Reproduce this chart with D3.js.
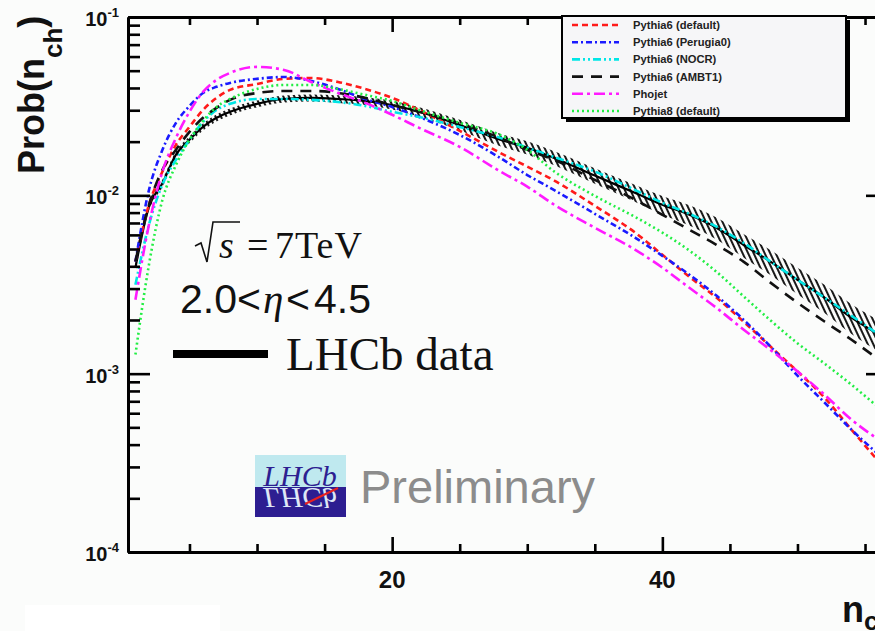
<!DOCTYPE html>
<html>
<head>
<meta charset="utf-8">
<script src="https://cdn.jsdelivr.net/npm/d3@7"></script>
<style>
  html, body { margin: 0; padding: 0; background: #fbfcfb; }
  svg { display: block; }
  text { font-family: "Liberation Sans", Arial, Helvetica, sans-serif; }
  .serif { font-family: "Liberation Serif", "Times New Roman", serif; }
</style>
</head>
<body>
<svg width="875" height="631"></svg>
<script>
var nch = [1, 2, 3, 4, 5, 6, 7, 8, 10, 12, 14, 16, 18, 20, 22, 25, 28, 30, 32, 35, 38, 40, 42, 44, 46, 48, 50, 52, 54, 56];

// LHCb data and its relative (hatched) uncertainty
var lhcbData = [0.00393, 0.00862, 0.0117, 0.0169, 0.0205, 0.0242, 0.0272, 0.0294, 0.0326, 0.0347, 0.0352, 0.0347, 0.0338, 0.0321, 0.0294, 0.0248, 0.0205, 0.0185, 0.0162, 0.0129, 0.0103, 0.00885, 0.00778, 0.00658, 0.00528, 0.00425, 0.00336, 0.00267, 0.00206, 0.00166];
var lhcbErr = [0.06, 0.05, 0.05, 0.045, 0.045, 0.045, 0.045, 0.045, 0.045, 0.045, 0.045, 0.05, 0.05, 0.055, 0.06, 0.07, 0.08, 0.085, 0.09, 0.1, 0.11, 0.12, 0.13, 0.14, 0.15, 0.16, 0.17, 0.18, 0.19, 0.2];

// generator predictions
var pythia6Default = [0.00425, 0.00885, 0.0136, 0.0192, 0.0242, 0.0301, 0.0352, 0.0390, 0.0421, 0.0450, 0.0455, 0.0432, 0.0395, 0.0352, 0.0301, 0.0230, 0.0173, 0.0145, 0.0121, 0.00873, 0.00617, 0.00464, 0.00349, 0.00267, 0.00196, 0.00142, 0.00103, 0.000734, 0.000485, 0.000322];
var pythia6Perugia0 = [0.00425, 0.0107, 0.0180, 0.0255, 0.0317, 0.0375, 0.0406, 0.0427, 0.0450, 0.0461, 0.0438, 0.0395, 0.0347, 0.0313, 0.0275, 0.0218, 0.0162, 0.0130, 0.0107, 0.00788, 0.00578, 0.00458, 0.00359, 0.00274, 0.00201, 0.00142, 0.000975, 0.000689, 0.000485, 0.000352];
var pythia6Nocr = [0.00315, 0.00684, 0.0115, 0.0158, 0.0205, 0.0258, 0.0301, 0.0326, 0.0347, 0.0347, 0.0343, 0.0334, 0.0317, 0.0294, 0.0275, 0.0242, 0.0210, 0.0185, 0.0164, 0.0136, 0.0107, 0.00908, 0.00787, 0.00667, 0.00542, 0.00425, 0.00336, 0.00267, 0.00211, 0.00166];
var pythia6Ambt1 = [0.00425, 0.00885, 0.0139, 0.0180, 0.0227, 0.0272, 0.0309, 0.0343, 0.0375, 0.0385, 0.0385, 0.0375, 0.0352, 0.0321, 0.0294, 0.0252, 0.0210, 0.0180, 0.0158, 0.0122, 0.00944, 0.00778, 0.00641, 0.00528, 0.00425, 0.00324, 0.00250, 0.00196, 0.00155, 0.00120];
var phojet = [0.00260, 0.00684, 0.0136, 0.0210, 0.0294, 0.0380, 0.0444, 0.0486, 0.0525, 0.0505, 0.0432, 0.0375, 0.0330, 0.0283, 0.0239, 0.0187, 0.0136, 0.0112, 0.00885, 0.00658, 0.00495, 0.00393, 0.00303, 0.00234, 0.00177, 0.00136, 0.00103, 0.000762, 0.000552, 0.000427];
var pythia8Default = [0.00128, 0.00408, 0.00944, 0.0148, 0.0205, 0.0261, 0.0313, 0.0347, 0.0395, 0.0416, 0.0416, 0.0395, 0.0366, 0.0338, 0.0301, 0.0255, 0.0218, 0.0180, 0.0136, 0.00993, 0.00755, 0.00618, 0.00490, 0.00373, 0.00272, 0.00199, 0.00148, 0.00114, 0.000867, 0.000646];

var seriesNames = ["Pythia6 (default)", "Pythia6 (Perugia0)", "Pythia6 (NOCR)", "Pythia6 (AMBT1)", "Phojet", "Pythia8 (default)"];
var seriesColors = ["#ff1a1a", "#1a1aff", "#00e6e6", "#111111", "#ff1aff", "#22ee44"];
var seriesDash = ["6,4", "6,3,2,3", "8,3,2,3,2,3", "11,8", "11,4,3,4", "2,3"];

var yTickExp = [-4, -3, -2, -1];
var xTickLabels = [20, 40];

var svg = d3.select("svg"),
    width = +svg.attr("width"),
    height = +svg.attr("height");

var x = d3.scaleLinear().domain([0.45, 56.7]).range([128, 888]);
var y = d3.scaleLog().domain([1e-4, 1e-1]).range([552, 17]);

svg.append("rect").attr("x", 25).attr("y", 605).attr("width", 195).attr("height", 26).attr("fill", "#ffffff");

var defs = svg.append("defs");
defs.append("pattern")
    .attr("id", "hatch")
    .attr("patternUnits", "userSpaceOnUse")
    .attr("width", 5)
    .attr("height", 5)
    .attr("patternTransform", "rotate(-25)")
  .append("line")
    .attr("x1", 1).attr("y1", 0).attr("x2", 1).attr("y2", 5)
    .attr("stroke", "#000")
    .attr("stroke-width", 1.8);
defs.append("clipPath").attr("id", "plotclip")
  .append("rect").attr("x", 128).attr("y", 17).attr("width", 760).attr("height", 535);

// series table
var seriesValues = [pythia6Default, pythia6Perugia0, pythia6Nocr, pythia6Ambt1, phojet, pythia8Default];
var series = seriesNames.map(function(name, i) {
    return { name: name, color: seriesColors[i], dash: seriesDash[i], values: seriesValues[i] };
});

var plot = svg.append("g").attr("clip-path", "url(#plotclip)");

// data band
var band = d3.area()
    .x(function(d, i) { return x(nch[i]); })
    .y0(function(d, i) { return y(d * (1 - lhcbErr[i])); })
    .y1(function(d, i) { return y(d * (1 + lhcbErr[i])); })
    .curve(d3.curveMonotoneX);

plot.append("path")
    .datum(lhcbData)
    .attr("d", band)
    .attr("fill", "url(#hatch)");

var line = d3.line()
    .x(function(d, i) { return x(nch[i]); })
    .y(function(d) { return y(d); })
    .curve(d3.curveMonotoneX);

plot.append("path")
    .datum(lhcbData)
    .attr("d", line)
    .attr("fill", "none")
    .attr("stroke", "#000")
    .attr("stroke-width", 2.2);

plot.selectAll(".mc")
    .data(series)
    .enter()
        .append("path")
        .attr("class", "mc")
        .attr("d", function(d) { return line(d.values); })
        .attr("fill", "none")
        .attr("stroke", function(d) { return d.color; })
        .attr("stroke-width", 2.6)
        .attr("stroke-dasharray", function(d) { return d.dash; });

// axes / frame
var minorY = [];
yTickExp.forEach(function(e) {
    if (e === -1) return;
    for (var k = 2; k <= 9; k++) minorY.push(k * Math.pow(10, e));
});
var majorY = yTickExp.map(function(e) { return Math.pow(10, e); });
var minorX = d3.range(5, 60, 5).filter(function(v) { return xTickLabels.indexOf(v) < 0; });

function styleAxis(g) {
    g.selectAll("path.domain").attr("stroke", "#000").attr("stroke-width", 3);
    g.selectAll(".tick line").attr("stroke", "#000").attr("stroke-width", 2.6);
    g.selectAll(".tick text").remove();
}

svg.append("g").attr("transform", "translate(128,0)")
    .call(d3.axisLeft(y).tickValues(minorY).tickSize(-12).tickSizeOuter(0)).call(styleAxis);
svg.append("g").attr("transform", "translate(128,0)")
    .call(d3.axisLeft(y).tickValues(majorY).tickSize(-22).tickSizeOuter(0)).call(styleAxis);
svg.append("g").attr("transform", "translate(888,0)")
    .call(d3.axisRight(y).tickValues(minorY).tickSize(-12).tickSizeOuter(0)).call(styleAxis);
svg.append("g").attr("transform", "translate(888,0)")
    .call(d3.axisRight(y).tickValues(majorY).tickSize(-22).tickSizeOuter(0)).call(styleAxis);
svg.append("g").attr("transform", "translate(0,552)")
    .call(d3.axisBottom(x).tickValues(minorX).tickSize(-8).tickSizeOuter(0)).call(styleAxis);
svg.append("g").attr("transform", "translate(0,552)")
    .call(d3.axisBottom(x).tickValues(xTickLabels).tickSize(-15).tickSizeOuter(0)).call(styleAxis);
svg.append("g").attr("transform", "translate(0,17)")
    .call(d3.axisTop(x).tickValues(minorX).tickSize(-8).tickSizeOuter(0)).call(styleAxis);
svg.append("g").attr("transform", "translate(0,17)")
    .call(d3.axisTop(x).tickValues(xTickLabels).tickSize(-15).tickSizeOuter(0)).call(styleAxis);

// tick labels
var yl = svg.selectAll(".ylab")
    .data(yTickExp)
    .enter()
        .append("text")
        .attr("class", "ylab")
        .attr("x", 119)
        .attr("y", function(d) { return y(Math.pow(10, d)) + 9; })
        .attr("text-anchor", "end")
        .attr("font-size", 20)
        .attr("font-weight", "bold")
        .attr("fill", "#111");
yl.append("tspan").text("10");
yl.append("tspan").attr("dy", -9).attr("font-size", 13).text(function(d) { return "-" + Math.abs(d); });

svg.selectAll(".xlab")
    .data(xTickLabels)
    .enter()
        .append("text")
        .attr("x", function(d) { return x(d); })
        .attr("y", 588)
        .attr("text-anchor", "middle")
        .attr("font-size", 24)
        .attr("font-weight", "bold")
        .attr("fill", "#111")
        .text(function(d) { return d; });

// axis titles
var yt = svg.append("text")
    .attr("transform", "translate(44,174) rotate(-90)")
    .attr("font-size", 36)
    .attr("font-weight", "bold")
    .attr("fill", "#111");
yt.append("tspan").text("Prob(n");
yt.append("tspan").attr("dy", 18).attr("font-size", 26).text("ch");
yt.append("tspan").attr("dy", -18).text(")");

var xt = svg.append("text")
    .attr("x", 842)
    .attr("y", 622)
    .attr("font-size", 36)
    .attr("font-weight", "bold")
    .attr("fill", "#111");
xt.append("tspan").text("n");
xt.append("tspan").attr("dy", 8).attr("font-size", 26).text("ch");

// legend
var lg = svg.append("g");
lg.append("rect").attr("x", 566).attr("y", 20).attr("width", 284).attr("height", 102).attr("fill", "#000");
lg.append("rect").attr("x", 562).attr("y", 16).attr("width", 284).attr("height", 102)
    .attr("fill", "#f6f6f8").attr("stroke", "#000").attr("stroke-width", 2);

var rows = lg.selectAll(".row")
    .data(series)
    .enter()
        .append("g")
        .attr("transform", function(d, i) { return "translate(0," + (25 + i * 17.2) + ")"; });
rows.append("line")
    .attr("x1", 572).attr("x2", 619)
    .attr("stroke", function(d) { return d.color; })
    .attr("stroke-width", 2.6)
    .attr("stroke-dasharray", function(d) { return d.dash; });
rows.append("text")
    .attr("x", 633).attr("y", 4)
    .attr("font-size", 11.2)
    .attr("font-weight", "bold")
    .attr("fill", "#222")
    .text(function(d) { return d.name; });

// annotations
svg.append("path")
    .attr("d", "M195,246 L201,243 L207,262 L213,222 L240,222")
    .attr("fill", "none").attr("stroke", "#111").attr("stroke-width", 1.6);
var sq = svg.append("text").attr("class", "serif").attr("y", 258).attr("font-size", 38).attr("fill", "#111");
sq.append("tspan").attr("x", 219).attr("font-style", "italic").text("s");
sq.append("tspan").attr("x", 247).text("=");
sq.append("tspan").attr("x", 275).attr("letter-spacing", 1).text("7TeV");

var eta = svg.append("text").attr("y", 313).attr("font-size", 41).attr("fill", "#111");
eta.append("tspan").attr("x", 180).text("2.0");
eta.append("tspan").attr("x", 237).text("<");
eta.append("tspan").attr("x", 263).attr("class", "serif").attr("font-style", "italic").text("\u03b7");
eta.append("tspan").attr("x", 286).text("<");
eta.append("tspan").attr("x", 314).text("4.5");

svg.append("line").attr("x1", 173).attr("x2", 268).attr("y1", 354).attr("y2", 354)
    .attr("stroke", "#000").attr("stroke-width", 8);
svg.append("text").attr("class", "serif").attr("x", 286).attr("y", 370)
    .attr("font-size", 47).attr("fill", "#111").text("LHCb data");

// LHCb logo
var logo = svg.append("g");
logo.append("rect").attr("x", 255).attr("y", 455).attr("width", 91).attr("height", 32).attr("fill", "#bfe9ef");
logo.append("rect").attr("x", 255).attr("y", 487).attr("width", 91).attr("height", 30).attr("fill", "#2d1e91");
logo.append("text").attr("class", "serif").attr("x", 300).attr("y", 486)
    .attr("text-anchor", "middle").attr("font-size", 30).attr("font-style", "italic")
    .attr("fill", "#2d1e91").text("LHCb");
logo.append("text").attr("class", "serif").attr("x", 300).attr("y", 486)
    .attr("transform", "translate(0,974) scale(1,-1)")
    .attr("text-anchor", "middle").attr("font-size", 30).attr("font-style", "italic")
    .attr("fill", "#dfe8f6").text("LHCb");
logo.append("line").attr("x1", 305).attr("y1", 504).attr("x2", 338).attr("y2", 488)
    .attr("stroke", "#e82020").attr("stroke-width", 2);

svg.append("text").attr("x", 360).attr("y", 503)
    .attr("font-size", 47).attr("fill", "#8c8c8c").text("Preliminary");
</script>
</body>
</html>
